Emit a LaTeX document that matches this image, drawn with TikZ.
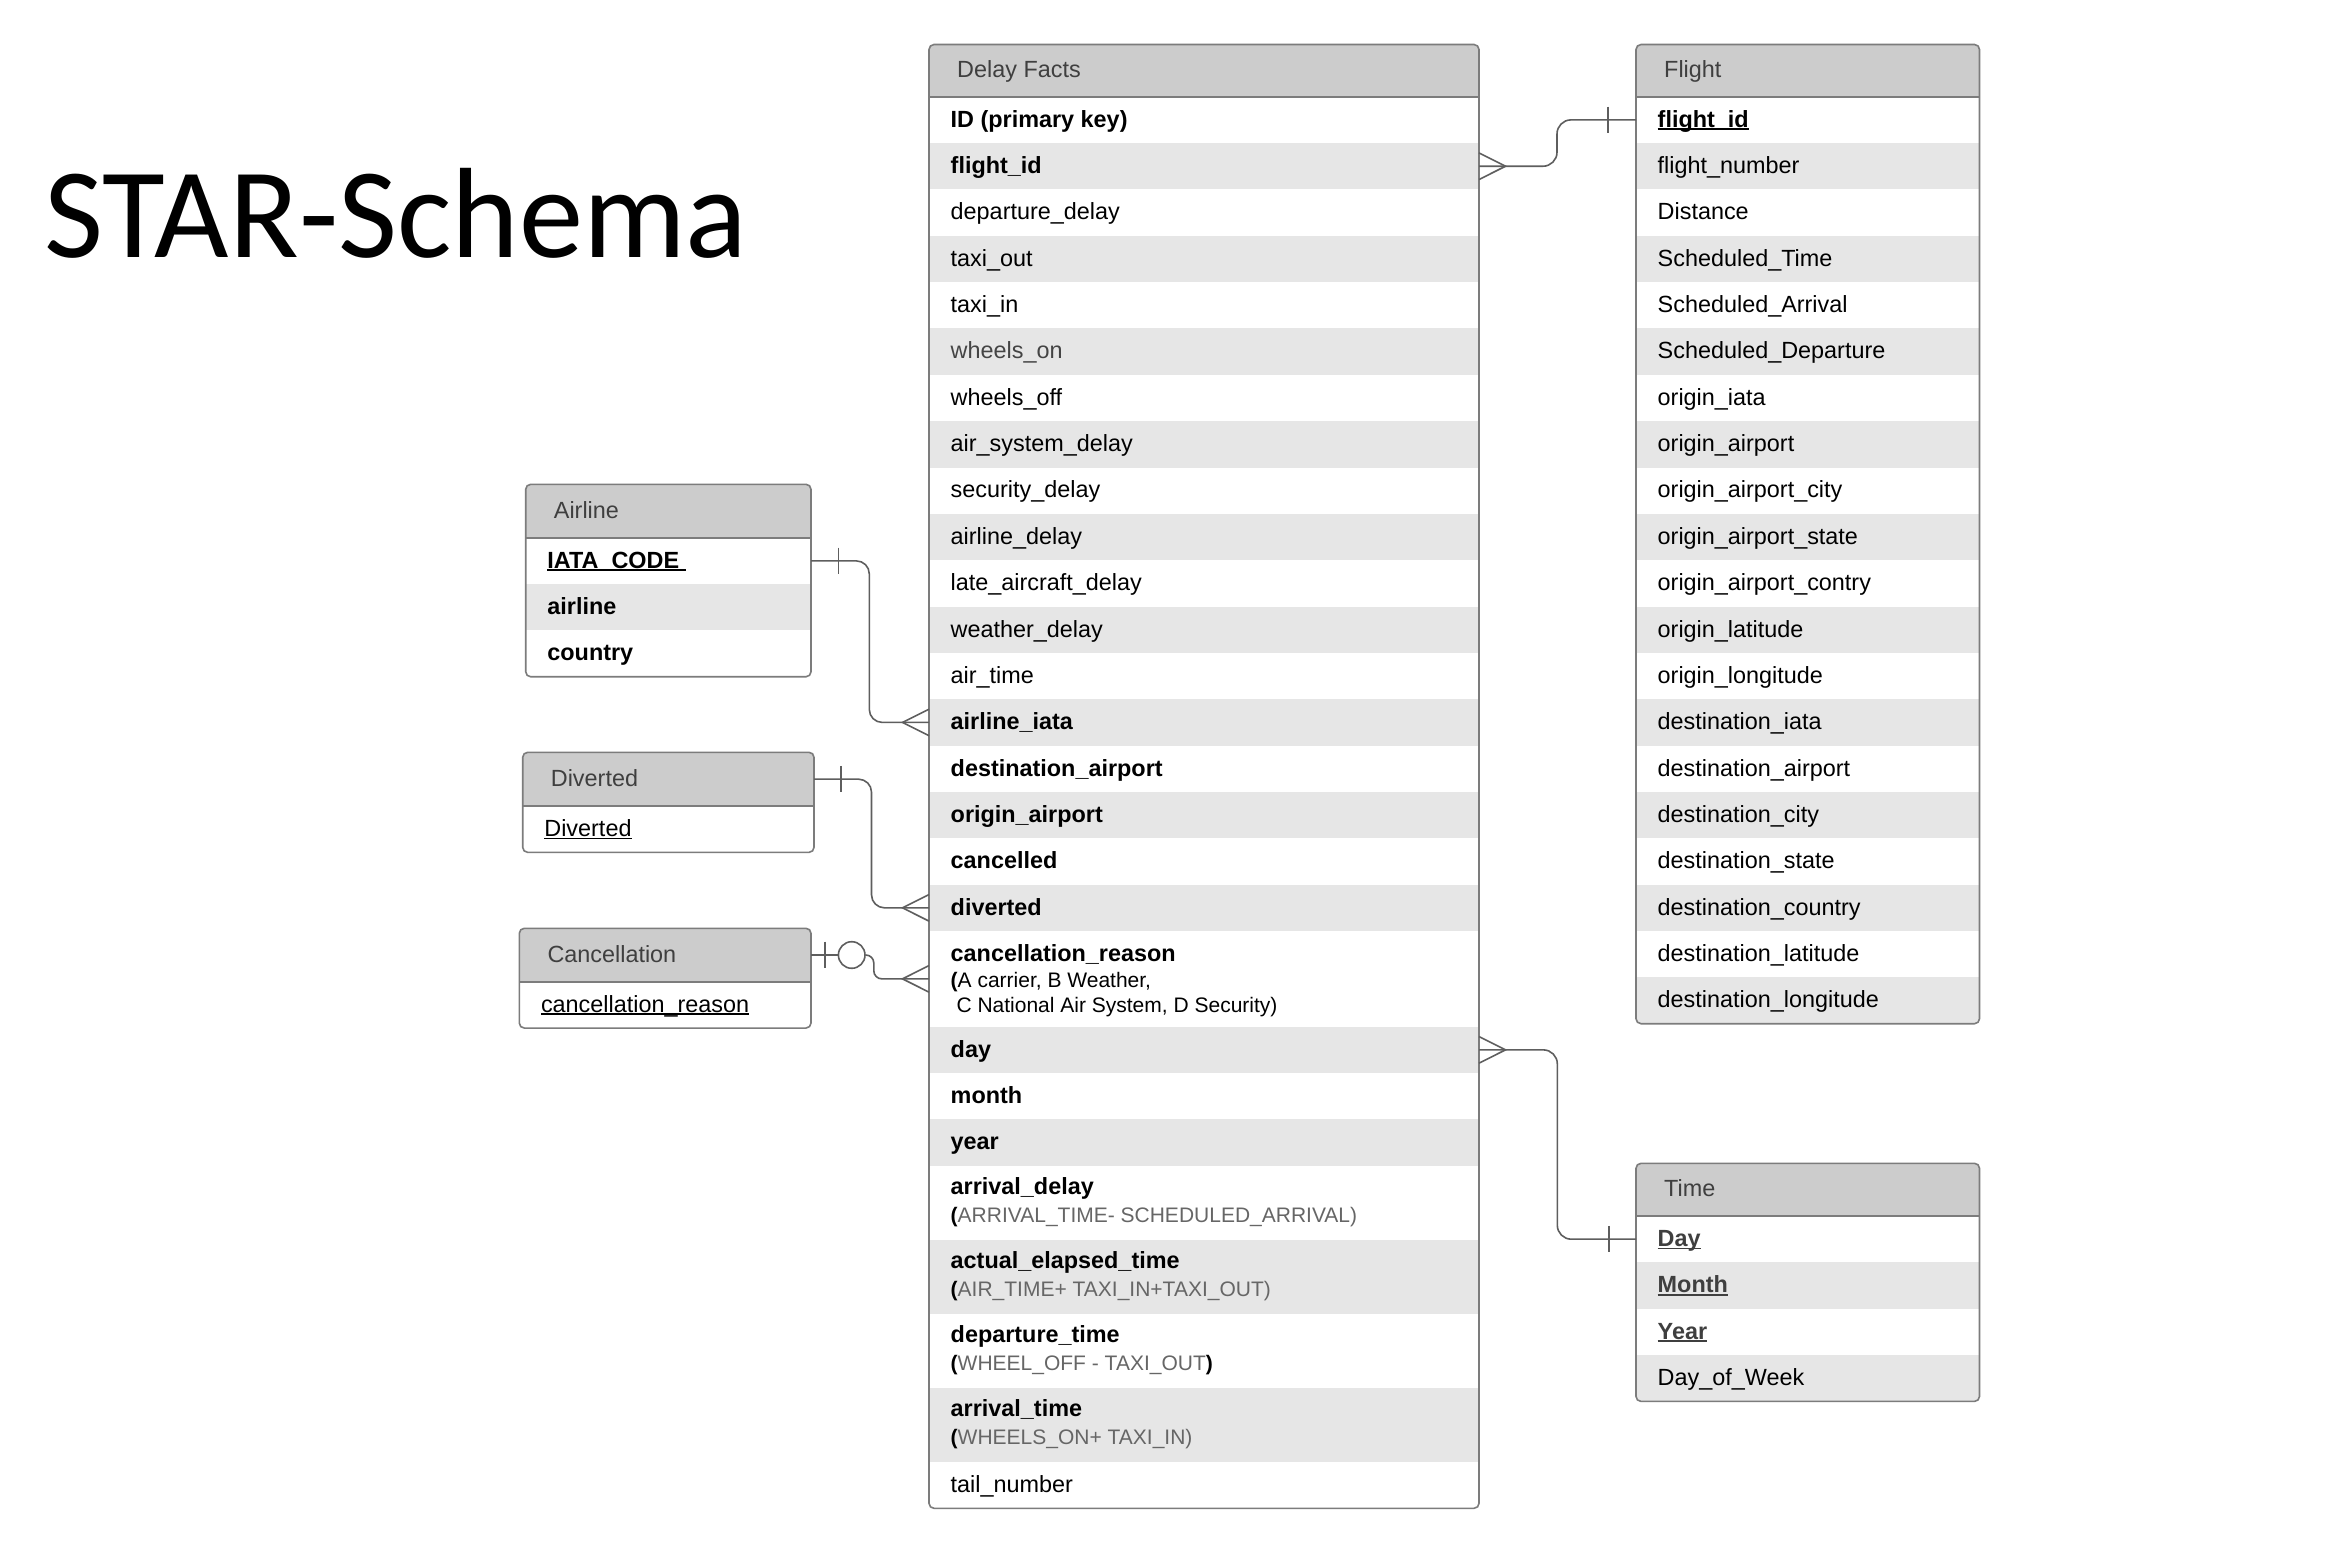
\documentclass[tikz,border=0pt]{standalone}
\usepackage{fontspec}
\setmainfont{Liberation Sans}
\newfontfamily\titlefont{Carlito}
\usetikzlibrary{calc}

\definecolor{hdrfill}{HTML}{CCCCCC}
\definecolor{stripe}{HTML}{E6E6E6}
\definecolor{edgecol}{HTML}{7C7C7C}
\definecolor{hdrtextcol}{HTML}{3F3F3F}
\definecolor{subgray}{HTML}{666666}
\definecolor{darktext}{HTML}{444444}
\definecolor{wirecol}{HTML}{5E5E5E}

% underline sitting just below the baseline
\newcommand\undl[1]{\setbox0=\hbox{#1}\rlap{\rule[-2.8pt]{\wd0}{1.5pt}}\box0}

% distance from a row's middle down to its text baseline
\def\bl{7.3}

\tikzset{
  cell/.style={rectangle, draw=none, inner sep=0pt, outer sep=0pt},
  frame/.style={rectangle, draw=none, fill=white, inner sep=0pt, outer sep=0pt},
  outline/.style={draw=edgecol, line width=1.6pt, rounded corners=5pt},
  celltext/.style={anchor=base west, inner sep=0pt, font=\fontsize{23.4}{28}\selectfont},
  subtext/.style={anchor=base west, inner sep=0pt, font=\fontsize{21}{25}\selectfont},
  hdrtext/.style={anchor=base west, inner sep=0pt, text=hdrtextcol, font=\fontsize{23.4}{28}\selectfont},
  wire/.style={draw=wirecol, line width=1.6pt},
}

% generic entity table: name, left, top, width, header height, title, row count, rows
\newcommand\erdtable[8]{%
  \pgfmathsetmacro\tabh{#5+#7*46.35}
  \node[frame, minimum width=#4, minimum height=\tabh, anchor=north west] (#1) at (#2,#3) {};
  \begin{scope}
    \clip[rounded corners=5pt] (#1.north west) rectangle (#1.south east);
    \node[cell, fill=hdrfill, minimum width=#4, minimum height=#5, anchor=north west] (#10) at (#2,#3) {};
    \node[hdrtext] at ($(#10.west)+(28,\bl)$) {#6};
    \foreach \txt [count=\i] in {#8}{
      \pgfmathsetmacro\rtop{#3+#5+(\i-1)*46.35}
      \ifodd\i\def\fc{white}\else\def\fc{stripe}\fi
      \node[cell, fill=\fc, minimum width=#4, minimum height=46.35, anchor=north west] (#1\i) at (#2,\rtop) {};
      \node[celltext] at ($(#1\i.west)+(21.5,\bl)$) {\txt};
    }
  \end{scope}
  \draw[outline] (#1.north west) rectangle (#1.south east);
  \draw[outline, rounded corners=0pt] (#10.south west) -- (#10.south east);
}

% one row of the fact table: index, top, height, fill
\newcommand\dfrow[4]{%
  \node[cell, fill=#4, minimum width=550, minimum height=#3, anchor=north west] (df#1) at (929,#2) {};}

% crow's feet on the right / left side of a row, and a bar across a line
\newcommand\crowR[1]{\draw[wire] ($(#1.east)+(0,-13.3)$) -- ($(#1.east)+(26.5,0)$) -- ($(#1.east)+(0,13.3)$);}
\newcommand\crowL[1]{\draw[wire] ($(#1.west)+(0,-13.3)$) -- ($(#1.west)+(-26.5,0)$) -- ($(#1.west)+(0,13.3)$);}
\newcommand\barat[2]{\draw[wire] ($(#1)+(#2,-13.3)$) -- ($(#1)+(#2,13.3)$);}

\begin{document}
\begin{tikzpicture}[x=1pt,y=-1pt]
\fill[white] (0,0) rectangle (2328,1556);
\useasboundingbox (0,0) rectangle (2328,1556);

\node[anchor=base west, inner sep=0pt, font=\titlefont\fontsize{128.5}{150}\selectfont] (title) at (44,257.3) {STAR-Schema};

% ---------- Delay Facts ----------
\node[frame, minimum width=550, minimum height=1463.8, anchor=north west] (df) at (929,44.5) {};
\begin{scope}
  \clip[rounded corners=5pt] (df.north west) rectangle (df.south east);
  \node[cell, fill=hdrfill, minimum width=550, minimum height=52.2, anchor=north west] (df0) at (929,44.5) {};
  \node[hdrtext] at ($(df0.west)+(28,\bl)$) {Delay Facts};
  \foreach \txt [count=\i] in {
      {\bfseries ID (primary key)}, {\bfseries flight\_id}, departure\_delay, taxi\_out, taxi\_in,
      {\color{darktext}wheels\_on}, wheels\_off, air\_system\_delay, security\_delay, airline\_delay,
      late\_aircraft\_delay, weather\_delay, air\_time, {\bfseries airline\_iata},
      {\bfseries destination\_airport}, {\bfseries origin\_airport}, {\bfseries cancelled}, {\bfseries diverted}}{
    \pgfmathsetmacro\rtop{96.7+(\i-1)*46.35}
    \ifodd\i\def\fc{white}\else\def\fc{stripe}\fi
    \node[cell, fill=\fc, minimum width=550, minimum height=46.35, anchor=north west] (df\i) at (929,\rtop) {};
    \node[celltext] at ($(df\i.west)+(21.5,\bl)$) {\txt};
  }
  \dfrow{19}{931.0}{95.7}{white}
  \node[celltext] at ($(df19.north west)+(21.5,30.2)$) {\bfseries cancellation\_reason};
  \node[subtext] at ($(df19.north west)+(21.5,56.2)$) {{\bfseries(}A carrier, B Weather,};
  \node[subtext] at ($(df19.north west)+(21.5,81.2)$) {\mbox{}\ C National Air System, D Security)};
  \dfrow{20}{1026.7}{46.3}{stripe}
  \node[celltext] at ($(df20.west)+(21.5,\bl)$) {\bfseries day};
  \dfrow{21}{1073.0}{46.3}{white}
  \node[celltext] at ($(df21.west)+(21.5,\bl)$) {\bfseries month};
  \dfrow{22}{1119.3}{46.3}{stripe}
  \node[celltext] at ($(df22.west)+(21.5,\bl)$) {\bfseries year};
  \dfrow{23}{1165.6}{74}{white}
  \node[celltext] at ($(df23.north west)+(21.5,28.6)$) {\bfseries arrival\_delay};
  \node[subtext] at ($(df23.north west)+(21.5,56.9)$) {{\bfseries(}\textcolor{subgray}{ARRIVAL\_TIME- SCHEDULED\_ARRIVAL)}};
  \dfrow{24}{1239.6}{74}{stripe}
  \node[celltext] at ($(df24.north west)+(21.5,28.6)$) {\bfseries actual\_elapsed\_time};
  \node[subtext] at ($(df24.north west)+(21.5,56.9)$) {{\bfseries(}\textcolor{subgray}{AIR\_TIME+ TAXI\_IN+TAXI\_OUT)}};
  \dfrow{25}{1313.6}{74}{white}
  \node[celltext] at ($(df25.north west)+(21.5,28.6)$) {\bfseries departure\_time};
  \node[subtext] at ($(df25.north west)+(21.5,56.9)$) {{\bfseries(}\textcolor{subgray}{WHEEL\_OFF - TAXI\_OUT}{\bfseries)}};
  \dfrow{26}{1387.6}{74}{stripe}
  \node[celltext] at ($(df26.north west)+(21.5,28.6)$) {\bfseries arrival\_time};
  \node[subtext] at ($(df26.north west)+(21.5,56.9)$) {{\bfseries(}\textcolor{subgray}{WHEELS\_ON+ TAXI\_IN)}};
  \dfrow{27}{1461.6}{46.7}{white}
  \node[celltext] at ($(df27.west)+(21.5,\bl)$) {tail\_number};
\end{scope}
\draw[outline] (df.north west) rectangle (df.south east);
\draw[outline, rounded corners=0pt] (df0.south west) -- (df0.south east);

% ---------- dimension tables ----------
\erdtable{fl}{1636}{44.5}{343.5}{52.2}{Flight}{20}{
  {\bfseries\undl{flight\_id}}, flight\_number, Distance, Scheduled\_Time, Scheduled\_Arrival,
  Scheduled\_Departure, origin\_iata, origin\_airport, origin\_airport\_city, origin\_airport\_state,
  origin\_airport\_contry, origin\_latitude, origin\_longitude, destination\_iata, destination\_airport,
  destination\_city, destination\_state, destination\_country, destination\_latitude, destination\_longitude}

\erdtable{tm}{1636}{1163.3}{343.5}{52.7}{Time}{4}{
  {\bfseries\color{hdrtextcol}\undl{Day}}, {\bfseries\color{hdrtextcol}\undl{Month}},
  {\bfseries\color{hdrtextcol}\undl{Year}}, Day\_of\_Week}

\erdtable{al}{525.7}{484.3}{285.3}{53.4}{Airline}{3}{
  {\bfseries\undl{IATA\_CODE\ }}, {\bfseries airline}, {\bfseries country}}

\erdtable{dv}{522.7}{752.3}{291.3}{53.7}{Diverted}{1}{{\undl{Diverted}}}

\erdtable{cn}{519.3}{928.3}{291.7}{53.4}{Cancellation}{1}{{\undl{cancellation\_reason}}}

% ---------- relationships ----------
% Delay Facts -> Flight
\draw[wire, rounded corners=14pt] (df2.east) -- ($(df2.east)+(78,0)$) |- (fl1.west);
\crowR{df2}
\barat{fl1.west}{-28}

% Delay Facts -> Time
\draw[wire, rounded corners=14pt] (df20.east) -- ($(df20.east)+(78.3,0)$) |- (tm1.west);
\crowR{df20}
\barat{tm1.west}{-27}

% Airline -> Delay Facts
\draw[wire, rounded corners=13pt] (al1.east) -- ($(al1.east)+(58.3,0)$) |- (df14.west);
\crowL{df14}
\barat{al1.east}{27.3}

% Diverted -> Delay Facts
\draw[wire, rounded corners=13pt] (dv0.east) -- ($(dv0.east)+(57.5,0)$) |- (df18.west);
\crowL{df18}
\barat{dv0.east}{26.7}

% Cancellation -> Delay Facts (zero or one)
\node[circle, wire, fill=white, minimum size=26.6pt, inner sep=0pt] (cnz) at ($(cn0.east)+(40.7,0)$) {};
\draw[wire] (cn0.east) -- (cnz.west);
\draw[wire, rounded corners=8pt] (cnz.east) -- ($(cnz.east)+(8,0)$) |- (df19.west);
\crowL{df19}
\barat{cn0.east}{14}
\end{tikzpicture}
\end{document}
